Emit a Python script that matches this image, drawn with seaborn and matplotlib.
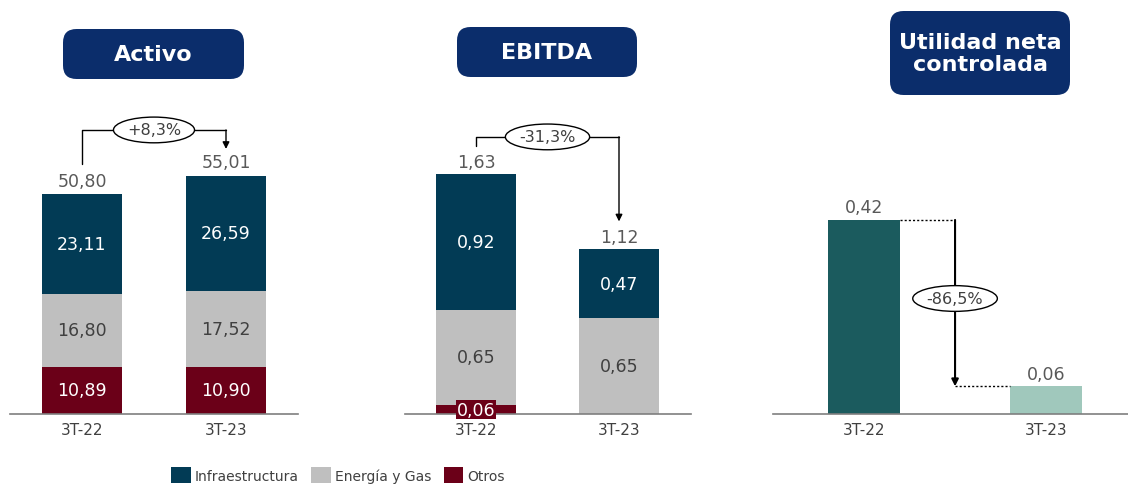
import matplotlib
matplotlib.use("Agg")
import matplotlib.pyplot as plt
from matplotlib.patches import FancyBboxPatch, Patch
import seaborn as sns
import pandas as pd

# ================= datos =================
periodos = ["3T-22", "3T-23"]

activo_infra = [23.11, 26.59]
activo_energia = [16.80, 17.52]
activo_otros = [10.89, 10.90]
activo_total = [50.80, 55.01]

ebitda_infra = [0.92, 0.47]
ebitda_energia = [0.65, 0.65]
ebitda_otros = [0.06, 0.0]
ebitda_total = [1.63, 1.12]

utilidad = [0.42, 0.06]

var_activo = "+8,3%"
var_ebitda = "-31,3%"
var_utilidad = "-86,5%"

series = ["Infraestructura", "Energía y Gas", "Otros"]

# ================= estilo =================
C_INFRA = "#023b55"
C_ENERGIA = "#bfbfbf"
C_OTROS = "#6b0018"
C_UT1 = "#1b5b5e"
C_UT2 = "#a0c8bc"
C_TITLE = "#0b2d6b"
C_TEXT = "#595959"

sns.set_theme(style="white")
plt.rcParams["font.family"] = ["DejaVu Sans"]

W, H = 1128, 485
fig = plt.figure(figsize=(W / 100, H / 100), dpi=100)


def add_axes_px(x0, x1, y_top, y_base):
    return fig.add_axes([x0 / W, (H - y_base) / H, (x1 - x0) / W, (y_base - y_top) / H])


def fmt(v):
    return f"{v:.2f}".replace(".", ",")


def style_axes(ax, xlim):
    sns.despine(ax=ax, left=True)
    ax.spines["bottom"].set_color("#7f7f7f")
    ax.spines["bottom"].set_linewidth(1.2)
    ax.set_yticks([])
    ax.set_xlabel("")
    ax.set_ylabel("")
    ax.set_xlim(*xlim)
    ax.tick_params(axis="x", length=0, labelsize=11, labelcolor="#404040", pad=6)
    ax.patch.set_alpha(0)


def stacked(ax, infra, energia, otros, width):
    df = pd.DataFrame({"periodo": periodos, "infra": infra,
                       "energia": energia, "otros": otros})
    df["c2"] = df["otros"] + df["energia"]
    df["c3"] = df["c2"] + df["infra"]
    for col, c in (("c3", C_INFRA), ("c2", C_ENERGIA), ("otros", C_OTROS)):
        sns.barplot(data=df, x="periodo", y=col, color=c, width=width,
                    saturation=1, linewidth=0, ax=ax)
    return df


def bracket(ax, y_left, y_top, y_right, label):
    ax.plot([0, 0, 1, 1], [y_left, y_top, y_top, y_top], color="black",
            lw=1, clip_on=False, zorder=3)
    ax.annotate("", xy=(1, y_right), xytext=(1, y_top + 0.001),
                arrowprops=dict(arrowstyle="-|>", color="black", lw=1,
                                shrinkA=0, shrinkB=0, mutation_scale=10),
                annotation_clip=False)
    ax.text(0.5, y_top, label, ha="center", va="center", fontsize=11.5,
            color="#404040", zorder=4,
            bbox=dict(boxstyle="ellipse,pad=0.1", fc="white", ec="black", lw=1))


# ---------- Activo ----------
ax1 = add_axes_px(10, 298, 100, 415)
ax1.set_ylim(0, 315 / 4.33)
df1 = stacked(ax1, activo_infra, activo_energia, activo_otros, 0.556)
style_axes(ax1, (-0.5, 1.5))
for i, r in df1.iterrows():
    ax1.text(i, r["otros"] / 2, fmt(r["otros"]), ha="center", va="center", fontsize=12.5, color="white")
    ax1.text(i, r["otros"] + r["energia"] / 2, fmt(r["energia"]), ha="center", va="center", fontsize=12.5, color="#404040")
    ax1.text(i, r["c2"] + r["infra"] / 2, fmt(r["infra"]), ha="center", va="center", fontsize=12.5, color="white")
    ax1.text(i, activo_total[i] + 1.0, fmt(activo_total[i]), ha="center", va="bottom", fontsize=12.5, color=C_TEXT)
bracket(ax1, activo_total[0] + 6.9, activo_total[0] + 14.8, activo_total[1] + 6.2, var_activo)

# ---------- EBITDA ----------
ax2 = add_axes_px(404.5, 690.5, 100, 415)
ax2.set_ylim(0, 315 / 147)
df2 = stacked(ax2, ebitda_infra, ebitda_energia, ebitda_otros, 0.56)
style_axes(ax2, (-0.5, 1.5))
for i, r in df2.iterrows():
    if r["otros"] > 0:
        ax2.text(i, r["otros"] / 2, fmt(r["otros"]), ha="center", va="center", fontsize=12.5,
                 color="white", bbox=dict(boxstyle="square,pad=0.05", fc=C_OTROS, ec="none"))
    ax2.text(i, r["otros"] + r["energia"] / 2, fmt(r["energia"]), ha="center", va="center", fontsize=12.5, color="#404040")
    ax2.text(i, r["c2"] + r["infra"] / 2, fmt(r["infra"]), ha="center", va="center", fontsize=12.5, color="white")
    ax2.text(i, ebitda_total[i] + 0.025, fmt(ebitda_total[i]), ha="center", va="bottom", fontsize=12.5, color=C_TEXT)
bracket(ax2, ebitda_total[0] + 0.19, ebitda_total[0] + 0.255, ebitda_total[1] + 0.19, var_ebitda)

# ---------- Utilidad neta controlada ----------
ax3 = add_axes_px(773, 1128, 100, 415)
ax3.set_ylim(0, 315 / 462)
df3 = pd.DataFrame({"periodo": periodos, "valor": utilidad})
w3 = 0.396
sns.barplot(data=df3, x="periodo", y="valor", hue="periodo", palette=[C_UT1, C_UT2],
            width=w3, saturation=1, legend=False, dodge=False, linewidth=0, ax=ax3)
style_axes(ax3, (-0.5, 1.45))
for i, v in enumerate(utilidad):
    ax3.text(i, v + 0.008, fmt(v), ha="center", va="bottom", fontsize=12.5, color=C_TEXT)
ax3.plot([w3 / 2, 0.5], [utilidad[0]] * 2, ls=(0, (1.5, 1.5)), color="black", lw=1)
ax3.plot([0.5, 1 - w3 / 2], [utilidad[1]] * 2, ls=(0, (1.5, 1.5)), color="black", lw=1)
ax3.annotate("", xy=(0.5, utilidad[1]), xytext=(0.5, utilidad[0]),
             arrowprops=dict(arrowstyle="-|>", color="black", lw=1.5,
                             shrinkA=0, shrinkB=0, mutation_scale=10))
ax3.text(0.5, (utilidad[0] + utilidad[1]) / 2 + 0.01, var_utilidad, ha="center", va="center",
         fontsize=11.5, color="#404040", zorder=4,
         bbox=dict(boxstyle="ellipse,pad=0.1", fc="white", ec="black", lw=1))

# ---------- títulos ----------
titulos = [("Activo", 63, 244, 30, 80), ("EBITDA", 457, 637, 28, 78),
           ("Utilidad neta\ncontrolada", 890, 1070, 12, 96)]
for txt, x0, x1, yt, yb in titulos:
    box = FancyBboxPatch((x0 / W, (H - yb) / H), (x1 - x0) / W, (yb - yt) / H,
                         boxstyle="round,pad=0,rounding_size=0.012",
                         transform=fig.transFigure, fc=C_TITLE, ec="none",
                         mutation_aspect=W / H)
    fig.patches.append(box)
    fig.text((x0 + x1) / 2 / W, (H - (yt + yb) / 2) / H, txt, ha="center", va="center",
             fontsize=16, fontweight="bold", color="white", linespacing=1.1)

# ---------- leyenda ----------
handles = [Patch(facecolor=c, edgecolor="none") for c in (C_INFRA, C_ENERGIA, C_OTROS)]
fig.legend(handles, series, loc="center", bbox_to_anchor=(338 / W, 9 / H), ncol=3,
           frameon=False, fontsize=10, handlelength=1.4, handleheight=1.4,
           handletextpad=0.3, columnspacing=0.9, labelcolor="#404040")

fig.savefig("out.png", dpi=100)
